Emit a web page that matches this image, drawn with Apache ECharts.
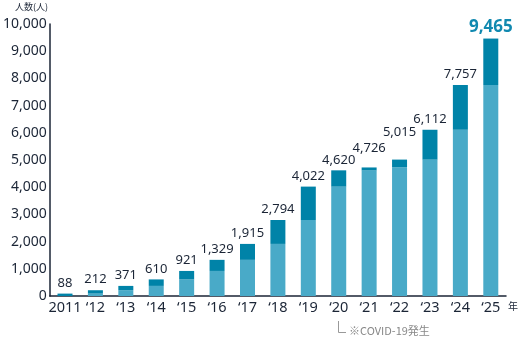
<!DOCTYPE html>
<html><head><meta charset="utf-8">
<script src="https://cdn.jsdelivr.net/npm/echarts@6/dist/echarts.min.js"></script>
<style>html,body{margin:0;padding:0;background:#fff}#c{width:519px;height:340px}</style>
</head><body><div id="c"></div>
<script>
const categories = ['2011','‘12','‘13','‘14','‘15','‘16','‘17','‘18','‘19','‘20','‘21','‘22','‘23','‘24','‘25'];
const totals = [88,212,371,610,921,1329,1915,2794,4022,4620,4726,5015,6112,7757,9465];
const yTicks = [0,1000,2000,3000,4000,5000,6000,7000,8000,9000,10000];

const base = totals.map((v,i)=> i===0 ? 0 : totals[i-1]);
const inc = totals.map((v,i)=> v - base[i]);
const FONT = '"Noto Sans", "Noto Sans CJK JP", sans-serif';
const fmt = n => n.toLocaleString('en-US');
const labelLift = {10:-9, 11:-17};

const incData = inc.map((v,i)=>{
  if (i===inc.length-1) return {value:v,label:{fontSize:17,fontWeight:'bold',color:'#1189b0',distance:3}};
  if (labelLift[i]) return {value:v,label:{offset:[0,labelLift[i]]}};
  return v;
});

const chart = echarts.init(document.getElementById('c'), null, {renderer:'canvas'});
chart.setOption({
  animation:false,
  grid:{left:47,right:13,top:24,bottom:44},
  xAxis:{type:'category',data:categories,
    axisLine:{lineStyle:{color:'#1b2536',width:1.5}},
    axisTick:{show:false},
    axisLabel:{color:'#1b2536',fontSize:14.5,fontFamily:FONT,margin:5,interval:0}},
  yAxis:{type:'value',min:yTicks[0],max:yTicks[yTicks.length-1],interval:1000,
    splitLine:{show:false},
    axisLine:{show:true,lineStyle:{color:'#1b2536',width:1.5}},
    axisTick:{show:false},
    axisLabel:{color:'#1b2536',fontSize:14,fontFamily:FONT,margin:3,formatter:v=>fmt(v)}},
  series:[
    {type:'bar',stack:'a',data:base,barWidth:15,itemStyle:{color:'#49aac8'}},
    {type:'bar',stack:'a',data:incData,barWidth:15,itemStyle:{color:'#0083a8'},
     label:{show:true,position:'top',distance:4,fontFamily:FONT,fontSize:13,color:'#1b2536',
       formatter:p=>fmt(totals[p.dataIndex])}}
  ],
  graphic:[
    {type:'text',left:15,top:2,style:{text:'人数(人)',font:'9px "Noto Sans CJK JP"',fill:'#1b2536'}},
    {type:'text',left:508,top:301,style:{text:'年',font:'10px "Noto Sans CJK JP"',fill:'#1b2536'}},
    {type:'polyline',shape:{points:[[338.5,321],[338.5,332.5],[346,332.5]]},style:{stroke:'#999',lineWidth:1,fill:null}},
    {type:'text',left:349,top:325,style:{text:'※COVID-19発生',font:'11px "Noto Sans CJK JP"',fill:'#888'}}
  ]
});
</script></body></html>
